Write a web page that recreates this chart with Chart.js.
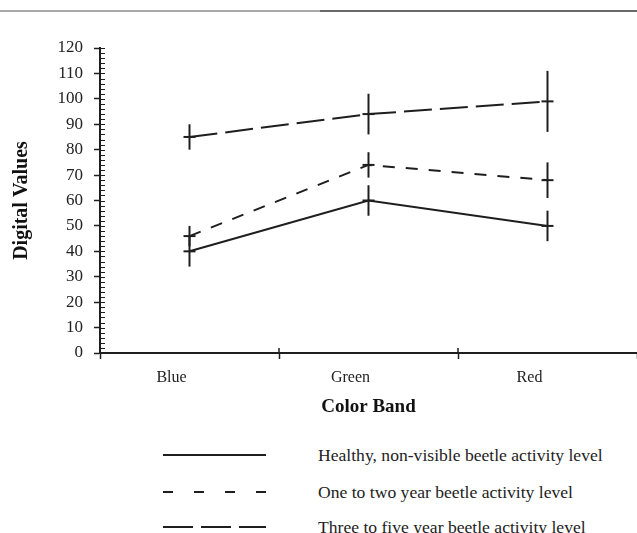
<!DOCTYPE html>
<html>
<head>
<meta charset="utf-8">
<script src="https://cdn.jsdelivr.net/npm/chart.js@4/dist/chart.umd.min.js"></script>
<style>
  html, body { margin: 0; padding: 0; background: #fff; }
  #wrap { position: relative; width: 637px; height: 533px; overflow: hidden; background: #fff; }
  #c { position: absolute; left: 0; top: 0; }
  .rule { position: absolute; top: 10px; height: 2px; }
  .lg-row { position: absolute; left: 0; width: 637px; height: 24px; }
  .lg-row svg { position: absolute; left: 163px; top: 0; }
  .lg-row span { position: absolute; left: 318px; top: 1px; font-family: 'Liberation Serif', 'Times New Roman', serif; font-size: 17.6px; color: #222; white-space: nowrap; line-height: 22px; }
</style>
</head>
<body>
<div id="wrap">
  <div class="rule" style="left:0;width:320px;background:#a8a8a8;"></div>
  <div class="rule" style="left:320px;width:317px;background:#6a6a6a;"></div>
  <canvas id="c" width="637" height="430"></canvas>
  <div id="legend"></div>
</div>
<script>
// ---- data ----
const categories = ['Blue', 'Green', 'Red'];
const seriesLabels = [
  'Healthy, non-visible beetle activity level',
  'One to two year beetle activity level',
  'Three to five year beetle activity level'
];
const healthy = [40, 60, 50];
const healthyErr = [6, 6, 6];
const oneToTwo = [46, 74, 68];
const oneToTwoErr = [4, 5, 7];
const threeToFive = [85, 94, 99];
const threeToFiveErr = [5, 8, 12];
const yMin = 0, yMax = 120, yStep = 10, yMinorStep = 2;
const xTitle = 'Color Band';
const yTitle = 'Digital Values';

const ink = '#1e1e1e';
const dashes = [[], [12, 11], [28, 8]];
const values = [healthy, oneToTwo, threeToFive];
const errs = [healthyErr, oneToTwoErr, threeToFiveErr];

const datasets = values.map((v, i) => ({
  label: seriesLabels[i],
  data: v,
  errors: errs[i],
  borderColor: ink,
  backgroundColor: ink,
  borderWidth: 2,
  borderDash: dashes[i],
  tension: 0,
  fill: false,
  pointStyle: 'line',
  pointRadius: 6,
  pointHoverRadius: 6,
  pointBorderWidth: 2,
  pointBorderColor: ink
}));

const errorBars = {
  id: 'errorBars',
  afterDatasetsDraw(chart) {
    const ctx = chart.ctx, ys = chart.scales.y;
    ctx.save();
    ctx.strokeStyle = ink;
    ctx.lineWidth = 2;
    ctx.setLineDash([]);
    chart.data.datasets.forEach((ds, di) => {
      const meta = chart.getDatasetMeta(di);
      meta.data.forEach((pt, i) => {
        const e = ds.errors[i], v = ds.data[i];
        ctx.beginPath();
        ctx.moveTo(pt.x, ys.getPixelForValue(v + e));
        ctx.lineTo(pt.x, ys.getPixelForValue(v - e));
        ctx.stroke();
      });
    });
    ctx.restore();
  }
};

const innerTicks = {
  id: 'innerTicks',
  afterDraw(chart) {
    const ctx = chart.ctx, ys = chart.scales.y, xs = chart.scales.x;
    const ax = chart.chartArea.left, ay = chart.chartArea.bottom;
    ctx.save();
    ctx.strokeStyle = ink;
    ctx.setLineDash([]);
    for (let v = yMin; v <= yMax; v += yMinorStep) {
      const y = Math.round(ys.getPixelForValue(v)) + 0.5;
      ctx.lineWidth = 1;
      ctx.beginPath();
      ctx.moveTo(ax, y);
      ctx.lineTo(ax + 5, y);
      ctx.stroke();
    }
    for (let i = 1; i < categories.length; i++) {
      const x = (xs.getPixelForTick(i - 1) + xs.getPixelForTick(i)) / 2;
      ctx.lineWidth = 1.5;
      ctx.beginPath();
      ctx.moveTo(x, ay);
      ctx.lineTo(x, ay - 5);
      ctx.stroke();
    }
    ctx.restore();
  }
};

new Chart(document.getElementById('c'), {
  type: 'line',
  data: { labels: categories, datasets },
  options: {
    responsive: false,
    animation: false,
    devicePixelRatio: 1,
    layout: { padding: { top: 48, left: 0, right: 0, bottom: 0 }, autoPadding: false },
    plugins: { legend: { display: false }, tooltip: { enabled: false } },
    scales: {
      x: {
        type: 'category',
        offset: true,
        afterFit(s) { s.height = 77; s.paddingLeft = 0; s.paddingRight = 0; },
        border: { display: true, color: ink, width: 2 },
        grid: { display: true, offset: true, drawOnChartArea: false, drawTicks: true, tickLength: 6, tickColor: ink, tickWidth: 1.5 },
        ticks: { color: '#222', font: { family: "'Liberation Serif', serif", size: 16 }, padding: 9, labelOffset: -18, maxRotation: 0 },
        title: { display: true, text: xTitle, color: '#111', font: { family: "'Liberation Serif', serif", size: 19, weight: 'bold' }, padding: { top: 0, bottom: 12 } }
      },
      y: {
        min: yMin, max: yMax,
        afterFit(s) { s.width = 100; s.paddingTop = 0; s.paddingBottom = 0; },
        border: { display: true, color: ink, width: 2 },
        grid: { display: true, drawOnChartArea: false, drawTicks: true, tickLength: 6, tickColor: ink, tickWidth: 1.5 },
        ticks: { stepSize: yStep, color: '#222', font: { family: "'Liberation Serif', serif", size: 17 }, padding: 11 },
        title: { display: true, text: yTitle, color: '#111', font: { family: "'Liberation Serif', serif", size: 20, weight: 'bold' }, padding: { top: 10, bottom: 0 } }
      }
    }
  },
  plugins: [errorBars, innerTicks]
});

// ---- legend (HTML, built from the datasets) ----
const legendTops = [443, 480, 515];
const legendDash = [[], [10, 21], [30, 8]];
const lg = document.getElementById('legend');
datasets.forEach((ds, i) => {
  const row = document.createElement('div');
  row.className = 'lg-row';
  row.style.top = legendTops[i] + 'px';
  const da = legendDash[i].length ? ` stroke-dasharray="${legendDash[i].join(' ')}"` : '';
  row.innerHTML = `<svg width="104" height="24"><line x1="0" y1="12" x2="103" y2="12" stroke="${ink}" stroke-width="2"${da}/></svg><span></span>`;
  row.querySelector('span').textContent = ds.label;
  lg.appendChild(row);
});
</script>
</body>
</html>
